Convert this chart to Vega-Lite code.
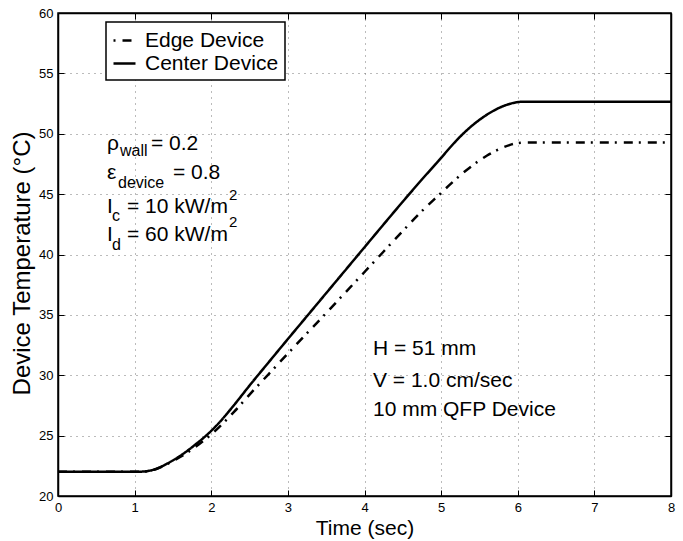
{
  "$schema": "https://vega.github.io/schema/vega-lite/v6.json",
  "width": 613,
  "height": 483,
  "autosize": {"type": "none"},
  "padding": {"left": 58, "top": 13, "right": 12, "bottom": 45},
  "background": "white",
  "config": {
    "font": "Liberation Sans",
    "view": {"stroke": "black", "strokeWidth": 1.5},
    "axis": {
      "domainColor": "black",
      "domainWidth": 1.5,
      "tickColor": "black",
      "tickWidth": 1,
      "tickSize": -6,
      "labelColor": "black",
      "labelFont": "Liberation Sans",
      "labelFontSize": 13,
      "titleFont": "Liberation Sans",
      "titleFontSize": 21,
      "titleFontWeight": "normal",
      "titleColor": "black",
      "gridColor": "#777",
      "gridDash": [1, 5],
      "gridWidth": 1,
      "gridOpacity": 1
    },
    "legend": {
      "orient": "none",
      "legendX": 48,
      "legendY": 9,
      "strokeColor": "black",
      "strokeWidth": 1.5,
      "fillColor": "white",
      "padding": 6,
      "rowPadding": 0,
      "labelFont": "Liberation Sans",
      "labelFontSize": 21,
      "labelColor": "black",
      "labelOffset": 8,
      "symbolType": "stroke",
      "symbolSize": 484,
      "symbolStrokeWidth": 2.5,
      "symbolStrokeColor": "black",
      "symbolDashOffset": 15
    }
  },
  "datasets": {
    "curves": [
      {"t": 0, "T": 22, "series": "Edge Device"},
      {"t": 1.0, "T": 22, "series": "Edge Device"},
      {"t": 1.1, "T": 22.02, "series": "Edge Device"},
      {"t": 1.2, "T": 22.1, "series": "Edge Device"},
      {"t": 1.3, "T": 22.28, "series": "Edge Device"},
      {"t": 1.4, "T": 22.55, "series": "Edge Device"},
      {"t": 1.5, "T": 22.9, "series": "Edge Device"},
      {"t": 1.6, "T": 23.25, "series": "Edge Device"},
      {"t": 1.7, "T": 23.65, "series": "Edge Device"},
      {"t": 1.8, "T": 24.1, "series": "Edge Device"},
      {"t": 1.9, "T": 24.58, "series": "Edge Device"},
      {"t": 2.0, "T": 25.1, "series": "Edge Device"},
      {"t": 2.1, "T": 25.68, "series": "Edge Device"},
      {"t": 2.2, "T": 26.32, "series": "Edge Device"},
      {"t": 2.3, "T": 26.98, "series": "Edge Device"},
      {"t": 2.5, "T": 28.4, "series": "Edge Device"},
      {"t": 2.75, "T": 30.1, "series": "Edge Device"},
      {"t": 3.0, "T": 31.8, "series": "Edge Device"},
      {"t": 3.25, "T": 33.48, "series": "Edge Device"},
      {"t": 3.5, "T": 35.15, "series": "Edge Device"},
      {"t": 3.75, "T": 36.85, "series": "Edge Device"},
      {"t": 4.0, "T": 38.55, "series": "Edge Device"},
      {"t": 4.25, "T": 40.25, "series": "Edge Device"},
      {"t": 4.5, "T": 41.95, "series": "Edge Device"},
      {"t": 4.75, "T": 43.6, "series": "Edge Device"},
      {"t": 5.0, "T": 45.1, "series": "Edge Device"},
      {"t": 5.1, "T": 45.7, "series": "Edge Device"},
      {"t": 5.2, "T": 46.28, "series": "Edge Device"},
      {"t": 5.3, "T": 46.83, "series": "Edge Device"},
      {"t": 5.4, "T": 47.33, "series": "Edge Device"},
      {"t": 5.5, "T": 47.79, "series": "Edge Device"},
      {"t": 5.6, "T": 48.2, "series": "Edge Device"},
      {"t": 5.7, "T": 48.55, "series": "Edge Device"},
      {"t": 5.8, "T": 48.85, "series": "Edge Device"},
      {"t": 5.9, "T": 49.08, "series": "Edge Device"},
      {"t": 6.0, "T": 49.23, "series": "Edge Device"},
      {"t": 6.1, "T": 49.28, "series": "Edge Device"},
      {"t": 8.0, "T": 49.28, "series": "Edge Device"},
      {"t": 0, "T": 22, "series": "Center Device"},
      {"t": 1.0, "T": 22, "series": "Center Device"},
      {"t": 1.1, "T": 22.02, "series": "Center Device"},
      {"t": 1.2, "T": 22.1, "series": "Center Device"},
      {"t": 1.3, "T": 22.3, "series": "Center Device"},
      {"t": 1.4, "T": 22.6, "series": "Center Device"},
      {"t": 1.5, "T": 22.95, "series": "Center Device"},
      {"t": 1.6, "T": 23.35, "series": "Center Device"},
      {"t": 1.7, "T": 23.8, "series": "Center Device"},
      {"t": 1.8, "T": 24.3, "series": "Center Device"},
      {"t": 1.9, "T": 24.82, "series": "Center Device"},
      {"t": 2.0, "T": 25.4, "series": "Center Device"},
      {"t": 2.1, "T": 26.05, "series": "Center Device"},
      {"t": 2.2, "T": 26.78, "series": "Center Device"},
      {"t": 2.3, "T": 27.55, "series": "Center Device"},
      {"t": 2.5, "T": 29.15, "series": "Center Device"},
      {"t": 2.75, "T": 31.08, "series": "Center Device"},
      {"t": 3.0, "T": 33.0, "series": "Center Device"},
      {"t": 3.25, "T": 34.9, "series": "Center Device"},
      {"t": 3.5, "T": 36.8, "series": "Center Device"},
      {"t": 3.75, "T": 38.7, "series": "Center Device"},
      {"t": 4.0, "T": 40.6, "series": "Center Device"},
      {"t": 4.25, "T": 42.5, "series": "Center Device"},
      {"t": 4.5, "T": 44.38, "series": "Center Device"},
      {"t": 4.75, "T": 46.22, "series": "Center Device"},
      {"t": 5.0, "T": 48.0, "series": "Center Device"},
      {"t": 5.1, "T": 48.74, "series": "Center Device"},
      {"t": 5.2, "T": 49.44, "series": "Center Device"},
      {"t": 5.3, "T": 50.08, "series": "Center Device"},
      {"t": 5.4, "T": 50.65, "series": "Center Device"},
      {"t": 5.5, "T": 51.15, "series": "Center Device"},
      {"t": 5.6, "T": 51.59, "series": "Center Device"},
      {"t": 5.7, "T": 51.96, "series": "Center Device"},
      {"t": 5.8, "T": 52.26, "series": "Center Device"},
      {"t": 5.9, "T": 52.48, "series": "Center Device"},
      {"t": 6.0, "T": 52.62, "series": "Center Device"},
      {"t": 6.1, "T": 52.66, "series": "Center Device"},
      {"t": 8.0, "T": 52.66, "series": "Center Device"}
    ],
    "mainText": [
      {"t": 0.6395, "T": 48.655, "label": "ρ"},
      {"t": 1.2137, "T": 48.655, "label": "= 0.2"},
      {"t": 0.6395, "T": 46.253, "label": "ε"},
      {"t": 1.5008, "T": 46.253, "label": "= 0.8"},
      {"t": 0.6395, "T": 43.437, "label": "I"},
      {"t": 0.9005, "T": 43.437, "label": "= 10 kW/m"},
      {"t": 0.6395, "T": 41.118, "label": "I"},
      {"t": 0.9005, "T": 41.118, "label": "= 60 kW/m"}
    ],
    "subText": [
      {"t": 0.809, "T": 48.157, "label": "wall"},
      {"t": 0.783, "T": 45.507, "label": "device"},
      {"t": 0.7047, "T": 42.774, "label": "c"},
      {"t": 0.7047, "T": 40.373, "label": "d"}
    ],
    "supText": [
      {"t": 2.2316, "T": 44.513, "label": "2"},
      {"t": 2.2316, "T": 42.277, "label": "2"}
    ],
    "rightText": [
      {"t": 4.1109, "T": 31.677, "label": "H = 51 mm"},
      {"t": 4.1109, "T": 29.027, "label": "V = 1.0 cm/sec"},
      {"t": 4.1109, "T": 26.625, "label": "10 mm QFP Device"}
    ]
  },
  "resolve": {"axis": {"x": "independent", "y": "independent"}},
  "layer": [
    {
      "data": {"name": "curves"},
      "mark": {"type": "line", "color": "black", "strokeWidth": 2.5, "interpolate": "monotone", "clip": true},
      "encoding": {
        "x": {
          "field": "t", "type": "quantitative",
          "scale": {"domain": [0, 8], "nice": false, "zero": false},
          "axis": {"orient": "bottom", "title": "Time (sec)", "values": [0, 1, 2, 3, 4, 5, 6, 7, 8], "grid": true, "labelPadding": 11, "titlePadding": 3, "labelFlush": false}
        },
        "y": {
          "field": "T", "type": "quantitative",
          "scale": {"domain": [20, 60], "nice": false, "zero": false},
          "axis": {"orient": "left", "title": "Device Temperature (°C)", "titleFontSize": 24, "titleY": 250, "values": [20, 25, 30, 35, 40, 45, 50, 55, 60], "grid": true, "labelPadding": 11, "titlePadding": 4, "labelFlush": false}
        },
        "strokeDash": {
          "field": "series", "type": "nominal",
          "scale": {"domain": ["Edge Device", "Center Device"], "range": [[9, 6, 2, 7], [1, 0]]},
          "legend": {"title": null}
        },
        "detail": {"field": "series"}
      }
    },
    {
      "data": {"name": "rightText"},
      "mark": {"type": "text", "align": "left", "baseline": "alphabetic", "font": "Liberation Sans", "fontSize": 21, "color": "black"},
      "encoding": {
        "x": {"field": "t", "type": "quantitative", "axis": {"orient": "top", "labels": false, "title": null, "grid": false, "values": [0, 1, 2, 3, 4, 5, 6, 7, 8]}},
        "y": {"field": "T", "type": "quantitative", "axis": {"orient": "right", "labels": false, "title": null, "grid": false, "values": [20, 25, 30, 35, 40, 45, 50, 55, 60]}},
        "text": {"field": "label"}
      }
    },
    {
      "data": {"name": "mainText"},
      "mark": {"type": "text", "align": "left", "baseline": "alphabetic", "font": "Liberation Sans", "fontSize": 21, "color": "black"},
      "encoding": {
        "x": {"field": "t", "type": "quantitative", "axis": null},
        "y": {"field": "T", "type": "quantitative", "axis": null},
        "text": {"field": "label"}
      }
    },
    {
      "data": {"name": "subText"},
      "mark": {"type": "text", "align": "left", "baseline": "alphabetic", "font": "Liberation Sans", "fontSize": 16, "color": "black"},
      "encoding": {
        "x": {"field": "t", "type": "quantitative", "axis": null},
        "y": {"field": "T", "type": "quantitative", "axis": null},
        "text": {"field": "label"}
      }
    },
    {
      "data": {"name": "supText"},
      "mark": {"type": "text", "align": "left", "baseline": "alphabetic", "font": "Liberation Sans", "fontSize": 15, "color": "black"},
      "encoding": {
        "x": {"field": "t", "type": "quantitative", "axis": null},
        "y": {"field": "T", "type": "quantitative", "axis": null},
        "text": {"field": "label"}
      }
    }
  ]
}
